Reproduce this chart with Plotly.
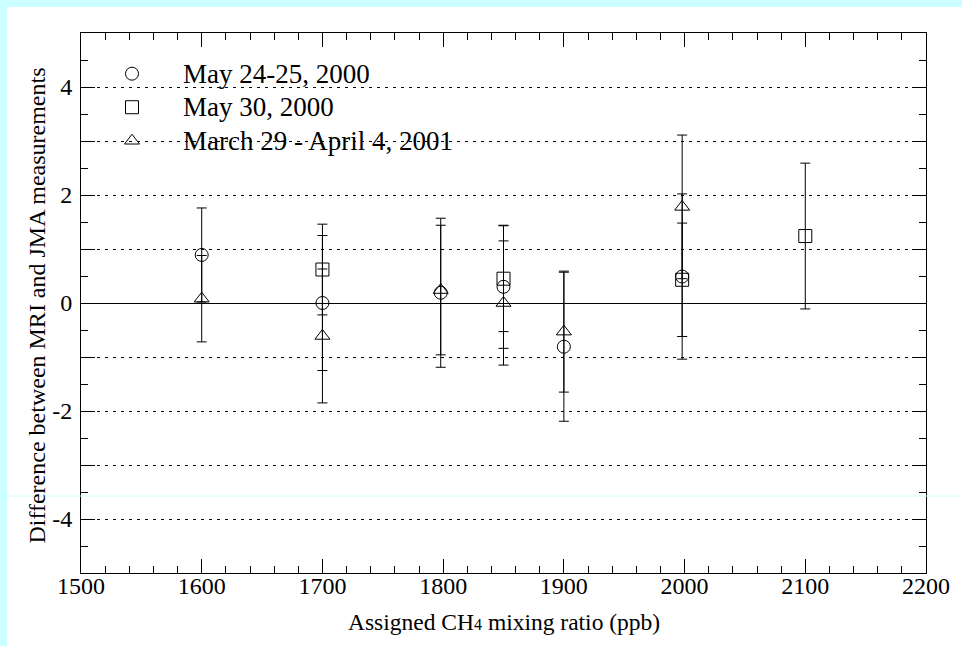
import plotly.graph_objects as go

# ---- data ----
circle_x = [1600, 1700, 1798, 1850, 1900, 1998]
circle_y = [0.89, 0.00, 0.19, 0.30, -0.81, 0.49]
circle_err = [0.87, 1.25, 1.38, 1.14, 1.38, 1.53]

square_x = [1700, 1850, 1998, 2100]
square_y = [0.62, 0.45, 0.43, 1.24]
square_err = [0.84, 0.98, 1.05, 1.35]

tri_x = [1600, 1700, 1798, 1850, 1900, 1998]
tri_y = [0.08, -0.61, 0.24, 0.00, -0.53, 1.78]
tri_err = [0.80, 1.24, 1.20, 1.15, 1.12, 1.33]

series_names = ["May 24-25, 2000", "May 30, 2000", "March 29 - April 4, 2001"]
x_ticks = [1500, 1600, 1700, 1800, 1900, 2000, 2100, 2200]
y_ticks = [-4, -3, -2, -1, 0, 1, 2, 3, 4]
y_ticktext = ["-4", "", "-2", "", "0", "", "2", "", "4"]

FONT = "Liberation Serif"
ML, MR, MT, MB = 81, 25, 33, 73
W, H = 962, 646
PW, PH = W - ML - MR, H - MT - MB


def px(x):
    return (x - ML) / PW


def py(y):
    return (H - MB - y) / PH


fig = go.Figure()

def add(xs, ys, errs, name, symbol):
    fig.add_trace(go.Scatter(
        x=xs, y=ys, mode="markers",
        name='<span style="font-size:27px">%s</span>' % name,
        marker=dict(symbol=symbol, size=13, color="black", line=dict(color="black", width=1)),
        error_y=dict(type="data", array=errs, symmetric=True, color="black", thickness=1, width=5),
    ))

add(circle_x, circle_y, circle_err, series_names[0], "circle-open")
add(square_x, square_y, square_err, series_names[1], "square-open")
add(tri_x, tri_y, tri_err, series_names[2], "triangle-up-open")

fig.update_layout(
    width=W, height=H,
    margin=dict(l=ML, r=MR, t=MT, b=MB),
    paper_bgcolor="#ccffff",
    plot_bgcolor="white",
    font=dict(family=FONT, color="black", size=23),
    showlegend=True,
    legend=dict(
        x=0.0, y=0.965, xanchor="left", yanchor="top",
        bgcolor="rgba(0,0,0,0)", borderwidth=0,
        font=dict(family=FONT, size=23.5, color="black"),
        itemwidth=92,
    ),
    xaxis=dict(
        range=[1500, 2200], tickvals=x_ticks, ticks="inside", ticklen=14, tickwidth=1,
        tickcolor="black", showline=True, linecolor="black", linewidth=1, mirror="allticks",
        showgrid=False, zeroline=False, ticklabelstandoff=-9,
        tickfont=dict(family=FONT, size=24, color="black"),
        minor=dict(tickmode="linear", tick0=1500, dtick=20, ticks="inside", ticklen=7,
                   tickcolor="black", tickwidth=1, showgrid=False),
    ),
    yaxis=dict(
        range=[-5, 5], tickvals=y_ticks, ticktext=y_ticktext, ticks="inside", ticklen=14,
        tickwidth=1, tickcolor="black", showline=True, linecolor="black", linewidth=1,
        mirror="allticks", showgrid=True, gridcolor="black", gridwidth=1, griddash="3px,5px",
        zeroline=True, zerolinecolor="black", zerolinewidth=1, ticklabelstandoff=3,
        tickfont=dict(family=FONT, size=24, color="black"),
        minor=dict(tickmode="linear", tick0=0, dtick=0.5, ticks="inside", ticklen=7,
                   tickcolor="black", tickwidth=1, showgrid=False),
    ),
    shapes=[
        dict(type="rect", xref="paper", yref="paper", x0=px(6), x1=1.1, y0=-0.3, y1=py(7),
             fillcolor="white", line=dict(width=0), layer="below"),
        dict(type="line", xref="paper", yref="paper", x0=-0.2, x1=1.1, y0=py(496), y1=py(496),
             line=dict(color="#ccffff", width=1), layer="above"),
    ],
    annotations=[
        dict(text='Assigned CH<span style="font-size:16px">4</span> mixing ratio (ppb)',
             xref="paper", yref="paper",
             x=0.5, y=py(622), xanchor="center", yanchor="middle", showarrow=False,
             font=dict(family=FONT, size=23.5, color="black")),
        dict(text="Difference between MRI and JMA measurements", xref="paper", yref="paper",
             x=px(36), y=py(306), xanchor="center", yanchor="middle", showarrow=False,
             textangle=-90, font=dict(family=FONT, size=24, color="black")),
    ],
)

fig.write_html("out.html")
